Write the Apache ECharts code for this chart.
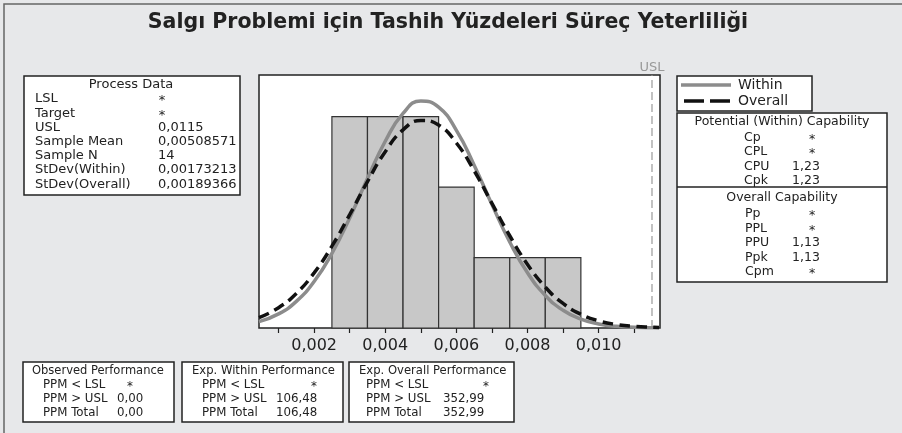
<!DOCTYPE html>
<html>
<head>
<meta charset="utf-8">
<script src="https://cdn.jsdelivr.net/npm/echarts@6/dist/echarts.min.js"></script>
<style>
    html, body { margin: 0; padding: 0; background: #e7e8ea; }
    #myChart { width: 902px; height: 433px; }
</style>
</head>
<body>
<div id="myChart"></div>
<script>
    // histogram: bin start, bin end, count
    var binStart = [0.0025, 0.0035, 0.0045, 0.0055, 0.0065, 0.0075, 0.0085];
    var binEnd = [0.0035, 0.0045, 0.0055, 0.0065, 0.0075, 0.0085, 0.0095];
    var binCount = [3, 3, 3, 2, 1, 1, 1];

    // curves
    var curveX = [0.00045, 0.001, 0.0015, 0.002, 0.0025, 0.003, 0.0035, 0.004, 0.0045, 0.005, 0.0055, 0.006,
        0.0065, 0.007, 0.0075, 0.008, 0.0085, 0.009, 0.0095, 0.010, 0.0105, 0.011, 0.0115, 0.0117];
    var withinY = [0.090, 0.200, 0.378, 0.660, 1.058, 1.562, 2.121, 2.650, 3.045, 3.221, 3.134, 2.805,
        2.311, 1.751, 1.221, 0.783, 0.462, 0.251, 0.125, 0.058, 0.024, 0.010, 0.003, 0.002];
    var overallY = [0.147, 0.288, 0.491, 0.782, 1.161, 1.608, 2.077, 2.502, 2.812, 2.946, 2.880, 2.625,
        2.232, 1.769, 1.309, 0.902, 0.581, 0.348, 0.195, 0.102, 0.050, 0.023, 0.010, 0.007];

    var usl = 0.0115;
    var tickValues = [0.001, 0.002, 0.003, 0.004, 0.005, 0.006, 0.007, 0.008, 0.009, 0.010, 0.011];
    var labelValues = [0.002, 0.004, 0.006, 0.008, 0.010];

    // text tables
    var processData = [['LSL', '*'], ['Target', '*'], ['USL', '0,0115'], ['Sample Mean', '0,00508571'],
        ['Sample N', '14'], ['StDev(Within)', '0,00173213'], ['StDev(Overall)', '0,00189366']];
    var potentialCap = [['Cp', '*'], ['CPL', '*'], ['CPU', '1,23'], ['Cpk', '1,23']];
    var overallCap = [['Pp', '*'], ['PPL', '*'], ['PPU', '1,13'], ['Ppk', '1,13'], ['Cpm', '*']];
    var observedPerf = [['PPM < LSL', '*'], ['PPM > USL', '0,00'], ['PPM Total', '0,00']];
    var withinPerf = [['PPM < LSL', '*'], ['PPM > USL', '106,48'], ['PPM Total', '106,48']];
    var overallPerf = [['PPM < LSL', '*'], ['PPM > USL', '352,99'], ['PPM Total', '352,99']];

    var FONT = 'DejaVu Sans';
    var TXT = '#222';

    function txt(x, y, s, size, align) {
        return {
            type: 'text', x: x, y: y,
            style: { text: s, fill: TXT, font: size + 'px "' + FONT + '"', textAlign: align || 'left', textVerticalAlign: 'middle' }
        };
    }
    function box(x, y, w, h) {
        return { type: 'rect', shape: { x: x, y: y, width: w, height: h }, style: { fill: '#fff', stroke: '#222', lineWidth: 1.5 } };
    }
    function rows(list, y0, step, lx, vx, sx, size) {
        var out = [];
        list.forEach(function (r, i) {
            var y = y0 + i * step;
            out.push(txt(lx, y, r[0], size));
            if (r[1] === '*') out.push(txt(sx, y + 2, '*', size, 'center'));
            else out.push(txt(vx, y, r[1], size));
        });
        return out;
    }

    var g = [];
    g.push({ type: 'rect', shape: { x: 4, y: 4, width: 910, height: 440 }, style: { fill: 'none', stroke: '#666', lineWidth: 1.5 } });
    g.push({
        type: 'text', x: 448, y: 23,
        style: { text: 'Salgı Problemi için Tashih Yüzdeleri Süreç Yeterliliği', fill: '#222', font: 'bold 20.5px "' + FONT + '"', textAlign: 'center', textVerticalAlign: 'middle' }
    });

    // process data
    g.push(box(24, 76, 216, 119));
    g.push(txt(131, 85, 'Process Data', 13, 'center'));
    g = g.concat(rows(processData, 99, 14.2, 35, 158, 162, 13));

    // legend
    g.push(box(677, 76, 135, 35));
    g.push({ type: 'line', shape: { x1: 681, y1: 85, x2: 731, y2: 85 }, style: { stroke: '#8c8c8c', lineWidth: 3.5 } });
    g.push({ type: 'line', shape: { x1: 684, y1: 101, x2: 731, y2: 101 }, style: { stroke: '#111', lineWidth: 3.5, lineDash: [20, 6] } });
    g.push(txt(738, 85, 'Within', 14));
    g.push(txt(738, 101, 'Overall', 14));

    // capability
    g.push(box(677, 113, 210, 169));
    g.push({ type: 'line', shape: { x1: 677, y1: 187, x2: 887, y2: 187 }, style: { stroke: '#222', lineWidth: 1.5 } });
    g.push(txt(782, 122, 'Potential (Within) Capability', 12.5, 'center'));
    g = g.concat(rows(potentialCap, 138, 14.2, 744, 792, 812, 12.5));
    g.push(txt(782, 198, 'Overall Capability', 12.5, 'center'));
    g = g.concat(rows(overallCap, 214, 14.5, 745, 792, 812, 12.5));

    // performance boxes
    g.push(box(23, 362, 151, 60));
    g.push(txt(32, 371, 'Observed Performance', 11.5));
    g = g.concat(rows(observedPerf, 385, 14, 43, 117, 130, 11.8));
    g.push(box(182, 362, 161, 60));
    g.push(txt(192, 371, 'Exp. Within Performance', 11.6));
    g = g.concat(rows(withinPerf, 385, 14, 202, 276, 314, 11.8));
    g.push(box(349, 362, 165, 60));
    g.push(txt(359, 371, 'Exp. Overall Performance', 11.6));
    g = g.concat(rows(overallPerf, 385, 14, 366, 443, 486, 11.8));

    var bars = binStart.map(function (s, i) { return [s, binEnd[i], binCount[i]]; });
    var within = curveX.map(function (x, i) { return [x, withinY[i]]; });
    var overall = curveX.map(function (x, i) { return [x, overallY[i]]; });

    var myChart = echarts.init(document.getElementById('myChart'));
    myChart.setOption({
        backgroundColor: '#e7e8ea',
        animation: false,
        grid: {
            left: 259, right: 242, top: 75, bottom: 105,
            show: true, backgroundColor: '#fff', borderColor: '#222', borderWidth: 1.5
        },
        xAxis: {
            type: 'value', min: 0.00045, max: 0.011725,
            splitLine: { show: false },
            axisLine: { show: false },
            axisTick: { show: true, customValues: tickValues, length: 5, lineStyle: { color: '#222', width: 1.2 } },
            axisLabel: {
                customValues: labelValues, margin: 10, color: '#222', fontSize: 16, fontFamily: FONT,
                formatter: function (v) { return v.toFixed(3).replace('.', ','); }
            }
        },
        yAxis: { type: 'value', min: 0, max: 3.59, show: false },
        series: [
            {
                type: 'custom',
                data: bars,
                encode: { x: [0, 1], y: 2 },
                renderItem: function (params, api) {
                    var p0 = api.coord([api.value(0), api.value(2)]);
                    var p1 = api.coord([api.value(1), 0]);
                    return {
                        type: 'rect',
                        shape: { x: p0[0], y: p0[1], width: p1[0] - p0[0], height: p1[1] - p0[1] },
                        style: { fill: '#c8c8c8', stroke: '#333', lineWidth: 1.2 }
                    };
                }
            },
            {
                name: 'USL', type: 'line', showSymbol: true, symbol: 'circle', symbolSize: 0,
                clip: false,
                lineStyle: { color: '#999', type: [8, 4], width: 1.2 },
                data: [
                    [usl, 0],
                    { value: [usl, 3.59], label: { show: true, position: 'top', formatter: 'USL', color: '#999', fontSize: 13, fontFamily: FONT, distance: 1 } }
                ]
            },
            {
                name: 'Within', type: 'line', data: within, smooth: true, showSymbol: false,
                lineStyle: { color: '#8c8c8c', width: 3.5 }
            },
            {
                name: 'Overall', type: 'line', data: overall, smooth: true, showSymbol: false,
                lineStyle: { color: '#111', width: 3.5, type: [11, 6] }
            }
        ],
        graphic: g
    });
</script>
</body>
</html>
